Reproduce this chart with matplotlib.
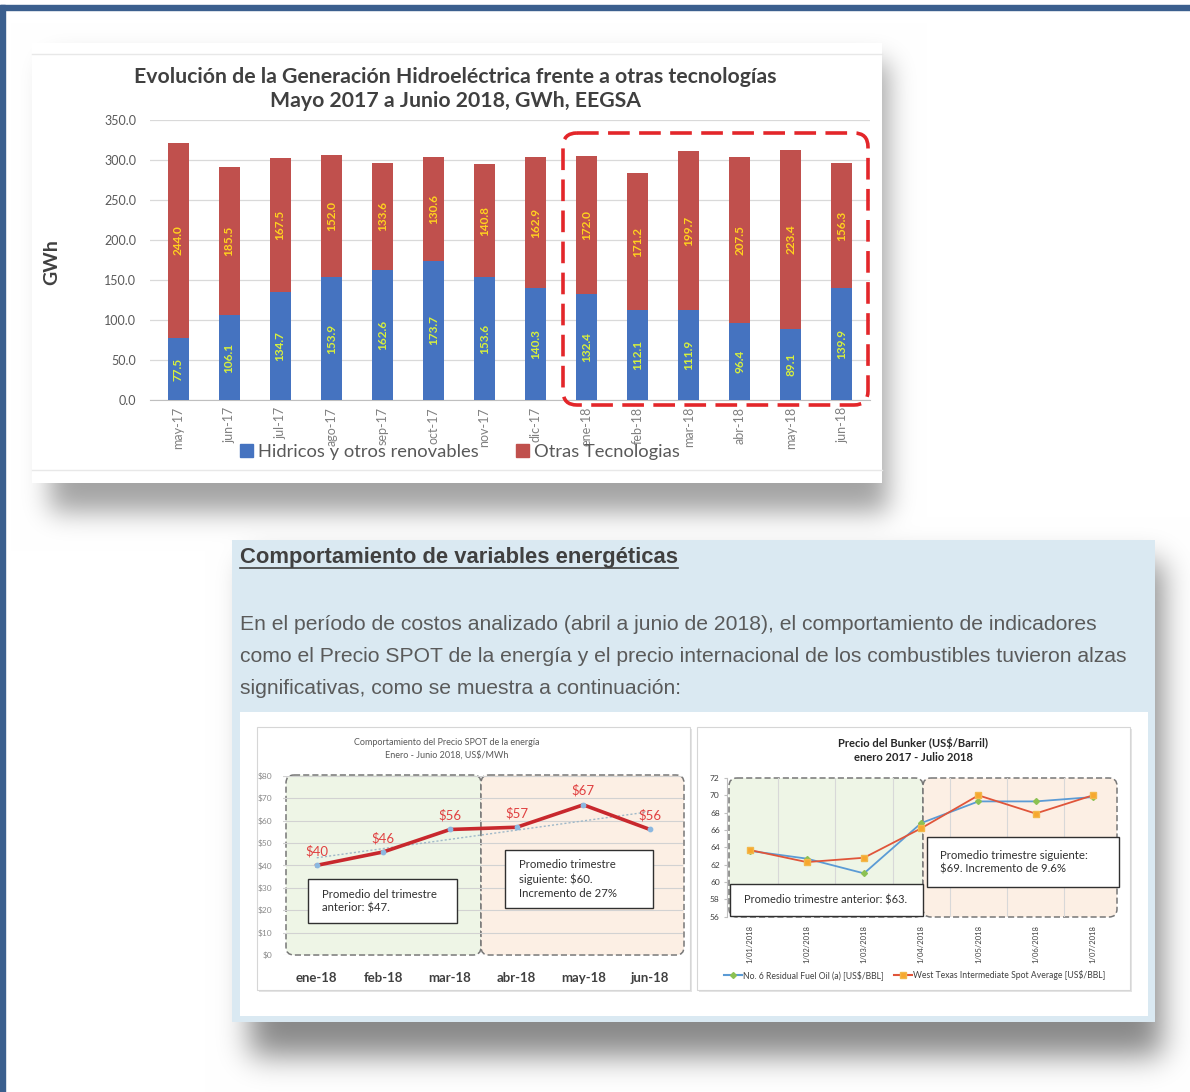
import numpy as np
import matplotlib
matplotlib.use("Agg")
import matplotlib.pyplot as plt
from matplotlib import font_manager
from matplotlib.patches import Rectangle, FancyBboxPatch, Patch
from matplotlib.lines import Line2D

# ---- data: generacion mensual EEGSA (GWh)
meses = ["may-17", "jun-17", "jul-17", "ago-17", "sep-17", "oct-17", "nov-17",
         "dic-17", "ene-18", "feb-18", "mar-18", "abr-18", "may-18", "jun-18"]
hidricos = [77.5, 106.1, 134.7, 153.9, 162.6, 173.7, 153.6, 140.3, 132.4, 112.1, 111.9, 96.4, 89.1, 139.9]
otras = [244.0, 185.5, 167.5, 152.0, 133.6, 130.6, 140.8, 162.9, 172.0, 171.2, 199.7, 207.5, 223.4, 156.3]

# ---- data: precio SPOT (US$/MWh)
meses_spot = ["ene-18", "feb-18", "mar-18", "abr-18", "may-18", "jun-18"]
precio_spot = [40, 46, 56, 57, 67, 56]

# ---- data: precio del bunker (US$/barril)
fechas_bunker = ["1/01/2018", "1/02/2018", "1/03/2018", "1/04/2018", "1/05/2018", "1/06/2018", "1/07/2018"]
fuel_oil = [63.6, 62.7, 61.0, 66.8, 69.3, 69.3, 69.8]
wti = [63.7, 62.3, 62.8, 66.2, 70.0, 67.9, 70.0]

W, H = 1190, 1092
names = {f.name for f in font_manager.fontManager.ttflist}
CAL = "Liberation Sans Narrow" if "Liberation Sans Narrow" in names else "Lato"
ARIAL = "Liberation Sans"
plt.rcParams["font.family"] = [CAL, "DejaVu Sans"]


def fr(x0, y0, x1, y1):
    return [x0 / W, 1 - y1 / H, (x1 - x0) / W, (y1 - y0) / H]


def blur(a, s):
    r = int(3 * s)
    k = np.exp(-np.arange(-r, r + 1) ** 2 / (2 * s * s))
    k /= k.sum()
    a = np.apply_along_axis(lambda m: np.convolve(m, k, mode="same"), 0, a)
    a = np.apply_along_axis(lambda m: np.convolve(m, k, mode="same"), 1, a)
    return a


fig = plt.figure(figsize=(W / 100, H / 100), dpi=100)
bg = fig.add_axes([0, 0, 1, 1])
bg.set_xlim(0, W)
bg.set_ylim(H, 0)
bg.axis("off")

# drop shadows of the two cards
s1 = np.zeros((H, W))
s1[62:512, 50:888] = 1
s2 = np.zeros((H, W))
s2[562:1056, 250:1162] = 1
dark = np.clip(0.48 * blur(s1, 13) + 0.62 * blur(s2, 15), 0, 1)
img = np.ones((H, W, 3)) - dark[..., None] * 0.75
bg.imshow(img, extent=(0, W, H, 0), aspect="auto", zorder=0, interpolation="bilinear")

# page frame
bg.add_patch(Rectangle((0, 5), W, 5, color="#3B5F8E", zorder=1))
bg.add_patch(Rectangle((0, 5), 5, H, color="#3B5F8E", zorder=1))

# top card
bg.add_patch(Rectangle((32, 43), 850, 440, fc="white", ec="none", zorder=2))
bg.plot([32, 882], [54, 54], color="#E8E8E8", lw=1, zorder=2.1)
bg.plot([32, 882], [470, 470], color="#E8E8E8", lw=1, zorder=2.1)
bg.text(455, 77, "Evolución de la Generación Hidroeléctrica frente a otras tecnologías",
        ha="center", va="center", fontsize=15.3, fontweight="bold", color="#404040", zorder=3)
bg.text(455, 101, "Mayo 2017 a Junio 2018, GWh, EEGSA",
        ha="center", va="center", fontsize=15.3, fontweight="bold", color="#404040", zorder=3)
bg.text(52, 262, "GWh", rotation=90, ha="center", va="center", fontsize=14,
        fontweight="bold", color="#404040", zorder=3)

# bottom card
bg.add_patch(Rectangle((232, 540), 923, 482, fc="#DAE9F2", ec="none", zorder=2))
bg.add_patch(Rectangle((240, 712), 908, 304, fc="white", ec="none", zorder=2.1))
hdr = bg.text(240, 558, "Comportamiento de variables energéticas", ha="left", va="center",
              fontsize=15.8, fontweight="bold", color="#404040", family=[ARIAL], zorder=3)
parrafo = ["En el período de costos analizado (abril a junio de 2018), el comportamiento de indicadores",
           "como el Precio SPOT de la energía y el precio internacional de los combustibles tuvieron alzas",
           "significativas, como se muestra a continuación:"]
for i, linea in enumerate(parrafo):
    bg.text(240, 625 + 32 * i, linea, ha="left", va="center", fontsize=15.2,
            color="#5A5A5A", family=[ARIAL], zorder=3)

# small chart frames
for x0 in (257, 697):
    bg.add_patch(Rectangle((x0 + 2, 729), 433, 263, fc="#E4E4E4", ec="none", zorder=2.2))
    bg.add_patch(Rectangle((x0, 727), 433, 263, fc="white", ec="#D6D6D6", lw=0.8, zorder=2.3))

# quarter shading boxes
def quarter(x0, x1, y0, y1, fc):
    bg.add_patch(FancyBboxPatch((x0, y0), x1 - x0, y1 - y0,
                                boxstyle="round,pad=0,rounding_size=8", fc=fc,
                                ec="#777777", ls=(0, (4, 2)), lw=1.1, zorder=2.5))

quarter(286, 481, 775, 955, "#EEF5E6")
quarter(481, 684, 775, 955, "#FCEFE4")
quarter(729, 923, 778, 917, "#EEF5E6")
quarter(923, 1117, 778, 917, "#FCEFE4")

# ---- bar chart
blue, red = "#4573C0", "#C0504D"
ax = fig.add_axes(fr(150, 120, 870, 400))
ax.set_facecolor("none")
x = np.arange(len(meses))
ax.bar(x, hidricos, 0.41, color=blue, zorder=3)
ax.bar(x, otras, 0.41, bottom=hidricos, color=red, zorder=3)
for i in range(len(meses)):
    ax.text(i, hidricos[i] / 2, f"{hidricos[i]:.1f}", rotation=90, ha="center", va="center",
            fontsize=8.5, fontweight="bold", color="#D8F03C", zorder=4)
    ax.text(i, hidricos[i] + otras[i] / 2, f"{otras[i]:.1f}", rotation=90, ha="center",
            va="center", fontsize=8.5, fontweight="bold", color="#FFD21F", zorder=4)
ax.set_xlim(-0.55, 13.55)
ax.set_ylim(0, 350)
ax.set_yticks(np.arange(0, 351, 50))
ax.set_yticklabels([f"{v:.1f}" for v in np.arange(0, 351, 50)])
ax.set_xticks(x)
ax.set_xticklabels(meses, rotation=90)
ax.tick_params(axis="y", length=0, pad=10, labelsize=9, labelcolor="#595959")
ax.tick_params(axis="x", length=0, pad=5, labelsize=9, labelcolor="#808080")
ax.yaxis.grid(True, color="#D9D9D9", lw=0.9)
ax.set_axisbelow(True)
for sp in ("left", "right", "top"):
    ax.spines[sp].set_visible(False)
ax.spines["bottom"].set_color("#BFBFBF")

fig.legend([Patch(color=blue), Patch(color=red)],
           ["Hidricos y otros renovables", "Otras Tecnologias"],
           loc="center", bbox_to_anchor=(460 / W, 1 - 452 / H), ncol=2, frameon=False,
           fontsize=13.2, handlelength=0.7, handleheight=0.7, handletextpad=0.3,
           columnspacing=2.0, labelcolor="#595959")

# ---- SPOT chart
ax2 = fig.add_axes(fr(283.4, 775.7, 683.3, 955))
ax2.set_facecolor("none")
xs = np.arange(len(meses_spot))
tend = np.polyval(np.polyfit(xs, precio_spot, 1), xs)
ax2.plot(xs, tend, color="#9FB8C8", lw=1, ls=(0, (1.5, 1.5)), zorder=3)
ax2.plot(xs, precio_spot, color="#C8282D", lw=2.6, zorder=4)
ax2.scatter(xs, precio_spot, s=10, color="#8CB8E0", zorder=5)
for i, v in enumerate(precio_spot):
    ax2.text(i, v + 6.3, f"${v}", ha="center", va="center", fontsize=9.5, color="#E04040", zorder=6)
ax2.set_xlim(-0.5, 5.5)
ax2.set_ylim(0, 80)
ax2.set_yticks(np.arange(0, 81, 10))
ax2.set_yticklabels([f"${v}" for v in range(0, 81, 10)])
ax2.set_xticks(xs)
ax2.set_xticklabels(meses_spot)
ax2.tick_params(axis="y", length=0, pad=8, labelsize=6, labelcolor="#8A8A8A")
ax2.tick_params(axis="x", length=0, pad=12, labelsize=9.5, labelcolor="#404040")
for lab in ax2.get_xticklabels():
    lab.set_fontweight("bold")
ax2.yaxis.grid(True, color="#D2D2D2", lw=0.8)
ax2.set_axisbelow(True)
for sp in ax2.spines.values():
    sp.set_visible(False)

# ---- bunker chart
ax3 = fig.add_axes(fr(726.7, 778, 1115.7, 916.7))
ax3.set_facecolor("none")
xb = np.arange(len(fechas_bunker))
ax3.plot(xb, fuel_oil, color="#5B9BD5", lw=1.3, marker="D", ms=3, mfc="#8CC152",
         mec="#8CC152", zorder=4)
ax3.plot(xb, wti, color="#E0553A", lw=1.3, marker="s", ms=5, mfc="#F7A72E",
         mec="#F2B84B", zorder=5)
ax3.set_xlim(-0.4, 6.4)
ax3.set_ylim(56, 72)
ax3.set_yticks(np.arange(56, 73, 2))
ax3.set_xticks(xb)
ax3.set_xticklabels(fechas_bunker, rotation=90)
ax3.set_xticks(xb[:-1] + 0.5, minor=True)
ax3.xaxis.grid(True, which="minor", color="#D8D8D8", lw=0.8)
ax3.set_axisbelow(True)
ax3.tick_params(axis="y", length=2, pad=3, labelsize=6, labelcolor="#404040", color="#BFBFBF")
ax3.tick_params(axis="x", which="both", length=0, pad=6, labelsize=5.5, labelcolor="#404040")
for sp in ("right", "top", "bottom"):
    ax3.spines[sp].set_visible(False)
ax3.spines["left"].set_color("#BFBFBF")

fig.legend([Line2D([], [], color="#5B9BD5", marker="D", ms=3, mfc="#8CC152", mec="#8CC152"),
            Line2D([], [], color="#E0553A", marker="s", ms=5, mfc="#F7A72E", mec="#F2B84B")],
           ["No. 6 Residual Fuel Oil (a) [US$/BBL]", "West Texas Intermediate Spot Average [US$/BBL]"],
           loc="center", bbox_to_anchor=(915 / W, 1 - 975 / H), ncol=2, frameon=False,
           fontsize=6.2, handlelength=2, handletextpad=0.2, columnspacing=1.2, labelcolor="#404040")

# ---- overlay (titles, note boxes, dashed highlight)
top = fig.add_axes([0, 0, 1, 1], zorder=10)
top.set_xlim(0, W)
top.set_ylim(H, 0)
top.axis("off")
top.patch.set_alpha(0)
top.add_patch(FancyBboxPatch((563, 133), 305, 272, boxstyle="round,pad=0,rounding_size=14",
                             fc="none", ec="#E3262A", lw=2.6, ls=(0, (6, 2.6))))
top.text(447, 749, "Comportamiento del Precio SPOT de la energía\nEnero - Junio 2018, US$/MWh",
         ha="center", va="center", fontsize=6.5, color="#595959", linespacing=1.5)
top.text(913, 750, "Precio del Bunker (US$/Barril)\nenero 2017 - Julio 2018",
         ha="center", va="center", fontsize=8, fontweight="bold", color="#262626", linespacing=1.4)

notas = [((308, 879, 457, 923), "Promedio del trimestre\nanterior: $47.", 322, 8.2),
         ((505, 850, 653, 908), "Promedio trimestre\nsiguiente: $60.\nIncremento de 27%", 519, 8.2),
         ((730, 884, 923, 916), "Promedio trimestre anterior: $63.", 744, 7.9),
         ((927, 837, 1119, 887), "Promedio trimestre siguiente:\n$69. Incremento de 9.6%", 940, 8.2)]
for (x0, y0, x1, y1), txt, tx, fs in notas:
    top.add_patch(Rectangle((x0, y0), x1 - x0, y1 - y0, fc="white", ec="#303030", lw=1))
    top.text(tx, (y0 + y1) / 2, txt, ha="left", va="center", fontsize=fs, color="#303030",
             linespacing=1.3)

# underline for the section header
fig.canvas.draw()
bb = hdr.get_window_extent(fig.canvas.get_renderer())
top.plot([bb.x0, bb.x1], [568, 568], color="#404040", lw=1.2)

fig.savefig("out.png", dpi=100)
